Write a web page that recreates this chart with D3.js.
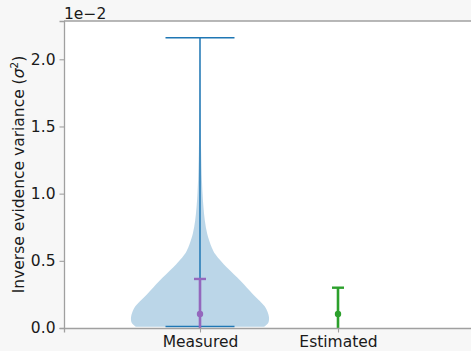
<!DOCTYPE html>
<html>
<head>
<meta charset="utf-8">
<script src="https://cdn.jsdelivr.net/npm/d3@7"></script>
<style>
  body { margin: 0; background: #f7f7f7; }
  text { font-family: "DejaVu Sans", sans-serif; fill: #1a1a1a; }
</style>
</head>
<body>
<div id="chart"></div>
<script>
// values are in units of 1e-2
var categories = ["Measured", "Estimated"];
var positions = [1, 2];
var yTicks = [0.0, 0.5, 1.0, 1.5, 2.0];

// violin outline of the measured data: value and relative half width
var violinValues = [0.01, 0.04, 0.08, 0.12, 0.16, 0.20, 0.25, 0.30, 0.35, 0.40, 0.45, 0.50, 0.55, 0.60, 0.70, 0.80, 0.90, 1.00, 1.10, 1.30, 1.60, 1.90, 2.16];
var violinDensity = [0.93, 0.99, 1.0, 0.98, 0.94, 0.87, 0.77, 0.68, 0.59, 0.49, 0.39, 0.30, 0.22, 0.17, 0.105, 0.07, 0.05, 0.037, 0.028, 0.017, 0.008, 0.004, 0.001];
var violinMin = 0.012, violinMax = 2.16;

// mean and std per category
var means = [0.104, 0.104];
var stds = [0.261, 0.196];
var colors = ["#9467bd", "#2ca02c"];

var W = 471, H = 351;
var margin = { top: 21, right: -5, bottom: 23, left: 64 };

var svg = d3.select("#chart")
    .append("svg")
    .attr("width", W)
    .attr("height", H);

svg.append("rect").attr("width", W).attr("height", H).attr("fill", "#f7f7f7");

var x = d3.scaleLinear()
    .domain([0.0145, 3])
    .range([margin.left, W - margin.right]);
var y = d3.scaleLinear()
    .domain([0, 2.285])
    .range([H - margin.bottom, margin.top]);

var x0 = x.range()[0], x1 = x.range()[1];

svg.append("defs").append("clipPath").attr("id", "clip")
    .append("rect")
    .attr("x", x0).attr("y", y(2.285))
    .attr("width", x1 - x0).attr("height", y(0) - y(2.285));

svg.append("rect")
    .attr("x", x0).attr("y", y(2.285))
    .attr("width", x1 - x0).attr("height", y(0) - y(2.285))
    .attr("fill", "white");

var plot = svg.append("g").attr("clip-path", "url(#clip)");

// violin body, half width 0.5 units
var pts = violinValues.map(function (v, i) { return [v, violinDensity[i]]; });
var area = d3.area()
    .curve(d3.curveCatmullRom)
    .y(function (d) { return y(d[0]); })
    .x0(function (d) { return x(positions[0] - 0.5 * d[1]); })
    .x1(function (d) { return x(positions[0] + 0.5 * d[1]); });
plot.append("path")
    .datum(pts)
    .attr("d", area)
    .attr("fill", "#1f77b4")
    .attr("fill-opacity", 0.3);

// extrema bars and centre line
var blue = "#1f77b4";
plot.append("line")
    .attr("x1", x(positions[0])).attr("x2", x(positions[0]))
    .attr("y1", y(violinMin)).attr("y2", y(violinMax))
    .attr("stroke", blue).attr("stroke-width", 1.5);
[violinMin, violinMax].forEach(function (v) {
    plot.append("line")
        .attr("x1", x(positions[0] - 0.25)).attr("x2", x(positions[0] + 0.25))
        .attr("y1", y(v)).attr("y2", y(v))
        .attr("stroke", blue).attr("stroke-width", 1.5);
});

// error bars
categories.forEach(function (c, i) {
    var cx = x(positions[i]);
    var g = plot.append("g");
    g.append("line")
        .attr("x1", cx).attr("x2", cx)
        .attr("y1", y(means[i] - stds[i])).attr("y2", y(means[i] + stds[i]))
        .attr("stroke", colors[i]).attr("stroke-width", 2.6);
    [means[i] - stds[i], means[i] + stds[i]].forEach(function (v) {
        g.append("line")
            .attr("x1", cx - 6).attr("x2", cx + 6)
            .attr("y1", y(v)).attr("y2", y(v))
            .attr("stroke", colors[i]).attr("stroke-width", 2.4);
    });
    g.append("circle")
        .attr("cx", cx).attr("cy", y(means[i]))
        .attr("r", 3.2).attr("fill", colors[i]);
});

// axes
var yAxis = svg.append("g")
    .attr("transform", "translate(" + x0 + ",0)")
    .call(d3.axisLeft(y).tickValues(yTicks).tickFormat(d3.format(".1f")).tickSize(4.5).tickPadding(4));
var xAxis = svg.append("g")
    .attr("transform", "translate(0," + y(0) + ")")
    .call(d3.axisBottom(x).tickValues(positions).tickFormat(function (d, i) { return categories[i]; }).tickSize(4.5).tickPadding(3));

[yAxis, xAxis].forEach(function (a) {
    a.select(".domain").attr("stroke", "#a0a0a0").attr("stroke-width", 1.3);
    a.selectAll(".tick line").attr("stroke", "#a0a0a0").attr("stroke-width", 1.1);
    a.selectAll(".tick text").attr("font-size", 15.5).attr("font-family", "DejaVu Sans").attr("fill", "#1a1a1a");
});

// top spine
svg.append("line")
    .attr("x1", x0).attr("x2", W)
    .attr("y1", y(2.285)).attr("y2", y(2.285))
    .attr("stroke", "#a0a0a0").attr("stroke-width", 1.3);

// offset text
svg.append("text")
    .attr("x", x0).attr("y", 18.5)
    .attr("font-size", 15.5)
    .text("1e\u22122");

// y label
svg.append("text")
    .attr("transform", "translate(24," + (y(0) + y(2.285)) / 2 + ") rotate(-90)")
    .attr("text-anchor", "middle")
    .attr("font-size", 15.5)
    .html("Inverse evidence variance (<tspan font-style='italic'>σ</tspan><tspan dy='-6' font-size='10.5'>2</tspan><tspan dy='6'>)</tspan>");
</script>
</body>
</html>
